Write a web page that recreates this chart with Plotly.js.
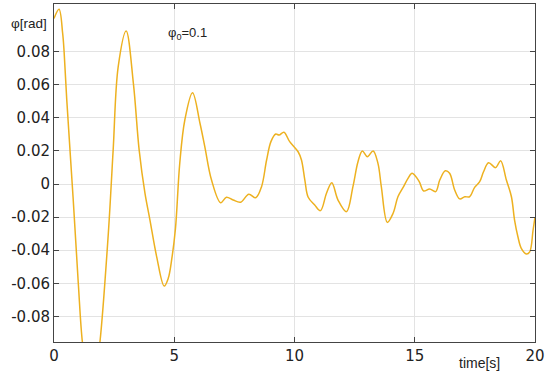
<!DOCTYPE html>
<html>
<head>
<meta charset="utf-8">
<script src="https://cdn.plot.ly/plotly-3.0.1.min.js"></script>
<style>html,body{margin:0;padding:0;background:#fff;}#chart{width:550px;height:373px;}</style>
</head>
<body>
<div id="chart"></div>
<script>
var timeS = [0, 0.21, 0.36, 0.42, 0.53, 0.80, 1.01, 1.18, 1.35, 1.55, 1.75, 1.91, 2.26, 2.46, 2.67, 3.0, 3.30, 3.54, 3.78, 3.99, 4.27, 4.58, 4.75, 4.90, 5.05, 5.23, 5.44, 5.76, 6.07, 6.27, 6.55, 6.93, 7.17, 7.45, 7.76, 8.10, 8.39, 8.63, 8.84, 9.02, 9.22, 9.36, 9.56, 9.80, 10.15, 10.29, 10.43, 10.57, 10.84, 11.08, 11.33, 11.55, 11.81, 12.16, 12.43, 12.64, 12.82, 13.03, 13.27, 13.47, 13.61, 13.86, 14.10, 14.30, 14.51, 14.72, 14.89, 15.18, 15.37, 15.62, 15.87, 16.04, 16.27, 16.45, 16.66, 16.87, 17.08, 17.28, 17.49, 17.70, 17.86, 18.07, 18.36, 18.57, 18.81, 19.02, 19.15, 19.29, 19.43, 19.64, 19.78, 19.92, 20];
var phiRad = [0.100, 0.1056, 0.091, 0.080, 0.051, -0.0097, -0.060, -0.0955, -0.112, -0.120, -0.112, -0.0955, -0.0296, 0.0206, 0.071, 0.0925, 0.061, 0.0206, -0.0054, -0.0218, -0.044, -0.0617, -0.057, -0.045, -0.027, 0.0127, 0.0387, 0.0552, 0.0367, 0.0226, 0.0024, -0.0113, -0.008, -0.0097, -0.011, -0.0062, -0.0083, -0.0016, 0.0145, 0.0256, 0.0302, 0.0296, 0.0313, 0.0256, 0.0195, 0.0145, 0.0024, -0.008, -0.0127, -0.0161, -0.0056, 0.0008, -0.0097, -0.0167, -0.0016, 0.0135, 0.020, 0.0165, 0.020, 0.0125, -0.0016, -0.0232, -0.0177, -0.0077, -0.0022, 0.0034, 0.0065, 0.0016, -0.0042, -0.003, -0.0046, 0.0024, 0.008, 0.0065, -0.0036, -0.009, -0.0077, -0.0077, -0.002, 0.0014, 0.0074, 0.0129, 0.0099, 0.0141, 0.0024, -0.0077, -0.0218, -0.0319, -0.0389, -0.0423, -0.041, -0.0278, -0.020];
var xTickVals = [0, 5, 10, 15, 20];
var xTickText = ["0", "5", "10", "15", "20"];
var yTickVals = [-0.08, -0.06, -0.04, -0.02, 0, 0.02, 0.04, 0.06, 0.08];
var yTickText = ["-0.08", "-0.06", "-0.04", "-0.02", "0", "0.02", "0.04", "0.06", "0.08"];

var axisCommon = {
  showline: true, mirror: 'allticks', linecolor: '#444', linewidth: 1,
  ticks: 'inside', ticklen: 5, tickcolor: '#444', tickwidth: 1,
  showgrid: true, gridcolor: '#e3e3e3', gridwidth: 1,
  zeroline: false,
  tickfont: {family: 'DejaVu Sans', size: 15, color: '#222'},
  tickmode: 'array'
};

var layout = {
  width: 550, height: 373,
  margin: {l: 54, r: 15, t: 4, b: 31},
  paper_bgcolor: '#fff', plot_bgcolor: '#fff',
  showlegend: false,
  xaxis: Object.assign({}, axisCommon, {range: [0, 20], tickvals: xTickVals, ticktext: xTickText}),
  yaxis: Object.assign({}, axisCommon, {range: [-0.0955, 0.1088], tickvals: yTickVals, ticktext: yTickText}),
  annotations: [
    {text: 'φ[rad]', xref: 'paper', yref: 'paper', x: -0.094, y: 0.941, xanchor: 'left', yanchor: 'middle', showarrow: false,
     font: {family: 'Liberation Sans', size: 13.5, color: '#222'}},
    {text: 'φ<sub>0</sub>=0.1', xref: 'paper', yref: 'paper', x: 0.233, y: 0.914, xanchor: 'left', yanchor: 'middle', showarrow: false,
     font: {family: 'Liberation Sans', size: 13, color: '#222'}},
    {text: 'time[s]', xref: 'paper', yref: 'paper', x: 0.838, y: -0.062, xanchor: 'left', yanchor: 'middle', showarrow: false,
     font: {family: 'Liberation Sans', size: 14, color: '#222'}}
  ]
};

var trace = {
  x: timeS, y: phiRad, type: 'scatter', mode: 'lines',
  line: {color: '#EDB120', width: 1.5, shape: 'spline', smoothing: 1}
};

Plotly.newPlot('chart', [trace], layout, {staticPlot: true, displayModeBar: false});
</script>
</body>
</html>
